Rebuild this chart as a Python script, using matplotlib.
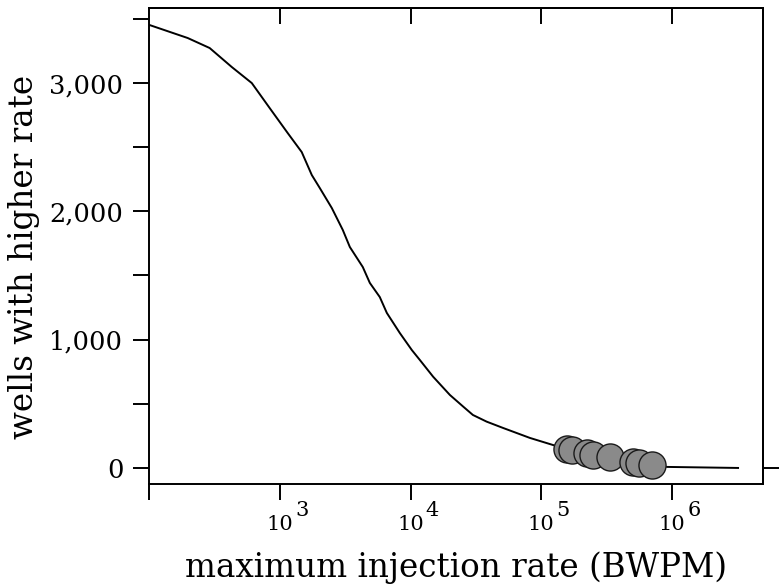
import numpy as np
import matplotlib
matplotlib.use("Agg")
import matplotlib.pyplot as plt
from matplotlib.ticker import FixedLocator, FuncFormatter

plt.rcParams['font.family'] = ['DejaVu Serif']

# survival curve: wells with a maximum injection rate above x (log10 of BWPM)
log_rate = [2.005, 2.296, 2.464, 2.633, 2.786, 2.923, 3.061, 3.168, 3.245, 3.306,
            3.398, 3.482, 3.536, 3.635, 3.689, 3.765, 3.819, 3.918, 4.010, 4.071,
            4.173, 4.301, 4.403, 4.477, 4.582, 4.707, 4.913, 5.089, 5.196, 5.349,
            5.525, 5.701, 5.847, 5.962, 6.505]
wells_higher = [3452, 3351, 3273, 3125, 3000, 2805, 2610, 2462, 2283, 2182,
                2026, 1855, 1722, 1566, 1442, 1332, 1208, 1052, 919, 842,
                711, 569, 478, 413, 361, 312, 234, 179, 148, 117,
                86, 47, 23, 8, 0]

# highlighted wells
well_log_rate = [5.196, 5.235, 5.349, 5.395, 5.525, 5.701, 5.747, 5.847]
well_count = [148, 140, 117, 101, 86, 47, 39, 23]

x_exponents = [3, 4, 5, 6]

rate = 10 ** np.array(log_rate)
well_rate = 10 ** np.array(well_log_rate)

fig = plt.figure(figsize=(7.83, 5.88), dpi=100)
ax = fig.add_axes([0.1903, 0.1769, 0.7842, 0.8095])

ax.plot(rate, wells_higher, color='black', lw=1.4, zorder=2)
ax.plot(well_rate, well_count, 'o', ms=19.5, mfc='#8a8a8a', mec='#1a1a1a',
        mew=1.0, zorder=3, clip_on=False)

ax.set_xscale('log')
ax.set_xlim(1e2, 10 ** 6.696)
ax.set_ylim(-125, 3585)

for s in ax.spines.values():
    s.set_linewidth(1.4)

# bottom axis: "10" labels with full-size raised exponents
ax.xaxis.set_major_locator(FixedLocator([1e2] + [10.0 ** e for e in x_exponents]))
ax.xaxis.set_minor_locator(FixedLocator([]))
ax.set_xticklabels([''] + ['10' for e in x_exponents])
ax.tick_params(axis='x', direction='out', length=11.5, width=1.4, labelsize=15, pad=11)
for e in x_exponents:
    ax.annotate(str(e), xy=(10.0 ** e, 0), xycoords=('data', 'axes fraction'),
                xytext=(11, -23), textcoords='offset points',
                ha='left', va='baseline', fontsize=15)

# left axis
ax.yaxis.set_major_locator(FixedLocator([0, 1000, 2000, 3000]))
ax.yaxis.set_minor_locator(FixedLocator([500, 1500, 2500, 3500]))
ax.yaxis.set_major_formatter(FuncFormatter(lambda v, p: f"{int(v):,}"))
ax.tick_params(axis='y', which='both', direction='out', length=11.5, width=1.4)
ax.tick_params(axis='y', which='major', labelsize=18.5, pad=7)

# top axis: inward ticks at the decades
top = ax.secondary_xaxis('top')
top.xaxis.set_major_locator(FixedLocator([10.0 ** e for e in x_exponents]))
top.xaxis.set_minor_locator(FixedLocator([]))
top.tick_params(direction='in', length=11.5, width=1.4, labeltop=False)
top.spines['top'].set_linewidth(1.4)

# right axis: a single outward tick at zero
right = ax.secondary_yaxis('right')
right.yaxis.set_major_locator(FixedLocator([0]))
right.yaxis.set_minor_locator(FixedLocator([]))
right.tick_params(direction='out', length=11.5, width=1.4, labelright=False)
right.spines['right'].set_linewidth(1.4)

ax.set_xlabel('maximum injection rate (BWPM)', fontsize=23.5, labelpad=12)
ax.set_ylabel('wells with higher rate', fontsize=23.5)
ax.yaxis.set_label_coords(-0.178, 0.477)

fig.savefig('out.png', dpi=100)
